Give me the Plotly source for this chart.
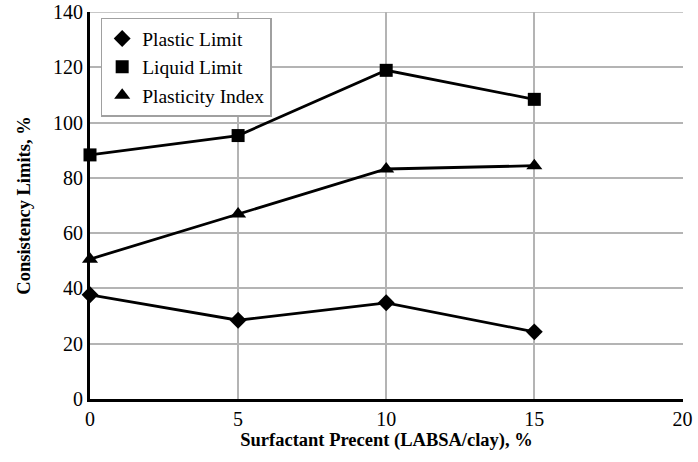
import plotly.graph_objects as go

surfactant = [0, 5, 10, 15]
plastic_limit = [37.7, 28.5, 34.8, 24.3]
liquid_limit = [88.3, 95.3, 118.9, 108.4]
plasticity_index = [50.6, 66.9, 83.2, 84.4]

x_ticks = [0, 5, 10, 15, 20]
y_ticks = [0, 20, 40, 60, 80, 100, 120, 140]

series = [
    ("Plastic Limit", plastic_limit, "diamond", 13),
    ("Liquid Limit", liquid_limit, "square", 13),
    ("Plasticity Index", plasticity_index, "triangle-up", 14),
]

FONT = "Liberation Serif"
GRID = "#b4b4b4"
fig = go.Figure()
for name, vals, sym, sz in series:
    fig.add_trace(go.Scatter(
        x=surfactant, y=vals, mode="lines+markers", name=name,
        line=dict(color="black", width=2.8),
        marker=dict(symbol=sym, size=sz, color="black"),
        cliponaxis=False, showlegend=False,
    ))
for name, vals, sym, sz in series:
    fig.add_trace(go.Scatter(
        x=[None], y=[None], mode="markers", name=name,
        marker=dict(symbol=sym, size=sz, color="black"),
        showlegend=True,
    ))

fig.add_shape(type="line", xref="paper", x0=0, x1=1, yref="y", y0=y_ticks[-1], y1=y_ticks[-1],
              line=dict(color=GRID, width=1.5), layer="below")

fig.update_layout(
    width=698, height=462,
    margin=dict(l=90, r=15, t=12, b=63, autoexpand=False),
    paper_bgcolor="white", plot_bgcolor="white",
    font=dict(family=FONT, size=20, color="black"),
    legend=dict(
        x=0.018, y=0.985, xanchor="left", yanchor="top",
        bgcolor="white", bordercolor="#a0a0a0", borderwidth=1.5,
        font=dict(family=FONT, size=19.5, color="black"),
        itemwidth=30, tracegroupgap=0,
    ),
    xaxis=dict(
        range=[0, 20.02], tickvals=x_ticks, ticktext=[str(v) for v in x_ticks],
        showgrid=True, gridcolor=GRID, gridwidth=1.5, automargin=False,
        showline=True, linecolor="black", linewidth=3, zeroline=False,
        ticks="", tickfont=dict(family=FONT, size=20),
        title=dict(text="<b>Surfactant Precent (LABSA/clay), %</b>",
                   font=dict(family=FONT, size=18.5), standoff=2),
    ),
    yaxis=dict(
        range=[0, 140], tickvals=y_ticks, ticktext=[str(v) for v in y_ticks],
        showgrid=True, gridcolor=GRID, gridwidth=1.5, automargin=False,
        showline=True, linecolor="black", linewidth=3, zeroline=False,
        ticks="", tickfont=dict(family=FONT, size=20),
        ticklabeloverflow="allow",
        title=dict(text="<b>Consistency Limits, %</b>",
                   font=dict(family=FONT, size=18.5), standoff=18),
    ),
)

fig.write_html("out.html")
